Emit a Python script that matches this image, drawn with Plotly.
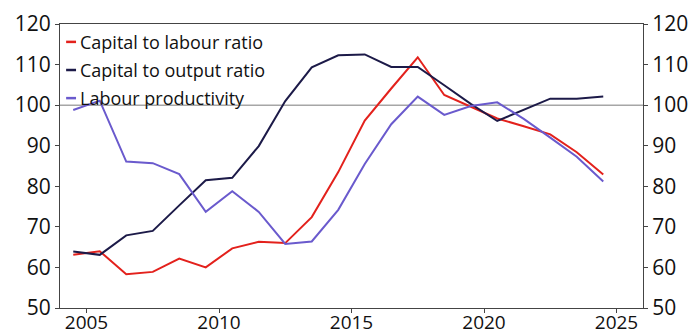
import plotly.graph_objects as go

# Annual observations plotted at mid-year
years = [2004.5, 2005.5, 2006.5, 2007.5, 2008.5, 2009.5, 2010.5, 2011.5, 2012.5, 2013.5,
         2014.5, 2015.5, 2016.5, 2017.5, 2018.5, 2019.5, 2020.5, 2021.5, 2022.5, 2023.5, 2024.5]

capital_to_labour = [63.1, 64.0, 58.3, 58.9, 62.2, 60.0, 64.7, 66.3, 66.0, 72.4,
                     83.5, 96.2, 104.1, 111.8, 102.5, 99.6, 96.7, 94.8, 92.8, 88.4, 82.9]
capital_to_output = [63.9, 63.1, 67.9, 69.0, 75.3, 81.5, 82.1, 89.9, 101.0, 109.3,
                     112.3, 112.5, 109.4, 109.4, 104.9, 100.3, 96.1, 98.8, 101.6, 101.6, 102.1]
labour_productivity = [98.8, 101.1, 86.1, 85.7, 83.0, 73.7, 78.8, 73.7, 65.8, 66.4,
                       74.2, 85.5, 95.3, 102.1, 97.6, 99.8, 100.7, 96.6, 92.0, 87.3, 81.2]

series_names = ["Capital to labour ratio", "Capital to output ratio", "Labour productivity"]
series_colors = ["#e3211c", "#1c1a48", "#6a5acd"]
y_ticks = [50, 60, 70, 80, 90, 100, 110, 120]
x_ticks = [2005, 2010, 2015, 2020, 2025]

FONT = "Open Sans"
AXIS_COLOR = "#444444"

fig = go.Figure()

# Reference line at 100
fig.add_shape(type="line", xref="paper", x0=0, x1=1, yref="y", y0=100, y1=100,
              line=dict(color="#a6a6a6", width=1.5), layer="below")

for vals, name, color in zip([capital_to_labour, capital_to_output, labour_productivity],
                             series_names, series_colors):
    fig.add_trace(go.Scatter(x=years, y=vals, mode="lines", name=name,
                             line=dict(color=color, width=2), showlegend=False))

# Invisible trace to drive the right-hand axis
fig.add_trace(go.Scatter(x=[years[0]], y=[None], yaxis="y2", showlegend=False,
                         hoverinfo="skip"))

# Legend in the top-left corner: short coloured key + label
legend_rows = [0.937, 0.838, 0.739]
for row_y, name, color in zip(legend_rows, series_names, series_colors):
    fig.add_shape(type="line", xref="paper", yref="paper", x0=0.0105, x1=0.0275,
                  y0=row_y, y1=row_y, line=dict(color=color, width=2.5))
    fig.add_annotation(x=0.031, y=row_y, xref="paper", yref="paper",
                       xanchor="left", yanchor="middle", text=name, showarrow=False,
                       font=dict(family=FONT, size=18, color="#111111"))

axis_common = dict(showgrid=False, zeroline=False, showline=True, linecolor=AXIS_COLOR,
                   linewidth=1.2, ticks="outside", ticklen=4, tickcolor=AXIS_COLOR,
                   automargin=False)
y_font = dict(family=FONT, size=21, color="#111111")
x_font = dict(family=FONT, size=19, color="#111111")

fig.update_layout(
    width=691, height=336,
    margin=dict(l=60, r=48, t=24, b=28),
    paper_bgcolor="white", plot_bgcolor="white",
    xaxis=dict(range=[2004, 2026], tickvals=x_ticks, mirror=True, tickfont=x_font,
               ticklabelstandoff=-7, **axis_common),
    yaxis=dict(range=[50, 120], tickvals=y_ticks, tickfont=y_font, **axis_common),
    yaxis2=dict(range=[50, 120], tickvals=y_ticks, overlaying="y", side="right",
                tickfont=y_font, **axis_common),
)

fig.write_html("out.html")
